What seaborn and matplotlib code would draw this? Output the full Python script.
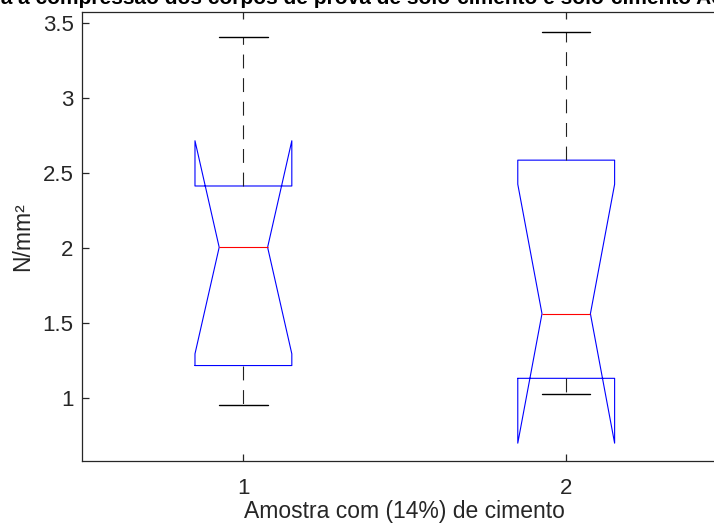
import matplotlib
matplotlib.use("Agg")
import matplotlib.pyplot as plt
import seaborn as sns
import pandas as pd

# Compressive strength (N/mm²) of the two sample sets, 7 specimens each
amostra_1 = [0.955, 1.10, 1.336, 2.005, 2.30, 2.526, 3.405]
amostra_2 = [1.029, 1.08, 1.186, 1.563, 2.47, 2.70, 3.438]
grupos = ["1", "2"]
y_ticks = [1, 1.5, 2, 2.5, 3, 3.5]
y_tick_labels = ["1", "1.5", "2", "2.5", "3", "3.5"]

df = pd.DataFrame({
    "Amostra": [grupos[0]] * len(amostra_1) + [grupos[1]] * len(amostra_2),
    "Resistencia": amostra_1 + amostra_2,
})

sns.set_theme(style="white")
plt.rcParams["font.family"] = ["Liberation Sans", "DejaVu Sans"]
plt.rcParams["lines.scale_dashes"] = False

fig = plt.figure(figsize=(7.14, 5.25), dpi=100)
ax = fig.add_axes([82 / 714, 63.7 / 525, 645.6 / 714, 449.6 / 525])

lw = 0.8
sns.boxplot(
    data=df, x="Amostra", y="Resistencia", order=grupos,
    notch=True, fill=False, width=0.3, whis=1.5,
    linewidth=lw, ax=ax,
    boxprops=dict(color="#0000ff", linewidth=lw),
    medianprops=dict(color="#ff0000", linewidth=lw),
    whiskerprops=dict(color="#222222", linewidth=lw, linestyle=(0, (10, 7))),
    capprops=dict(color="#000000", linewidth=1.0),
)

ax.set_xlim(-0.5, 1.5)
ax.set_ylim(0.5807, 3.573)
ax.set_yticks(y_ticks)
ax.set_yticklabels(y_tick_labels)

dark = "#262626"
for side in ["left", "bottom", "top", "right"]:
    ax.spines[side].set_visible(True)
    ax.spines[side].set_color(dark)
    ax.spines[side].set_linewidth(0.9)
ax.tick_params(axis="both", direction="in", length=5, width=0.9, color=dark,
               labelsize=16, labelcolor=dark, top=True, right=True,
               bottom=True, left=True)
ax.tick_params(axis="y", pad=6)
ax.tick_params(axis="x", pad=12)

ax.set_xlabel("Amostra com (14%) de cimento", fontsize=16.5, color=dark, labelpad=0.5)
ax.set_ylabel("N/mm²", fontsize=16.5, color=dark, labelpad=6)

# Figure title sits at the very top edge of the canvas
fig.text(405 / 714, 1 - 4 / 525,
         "Resistência à compressão dos corpos de prova de solo-cimento e solo-cimento Acrescido de cimento",
         ha="center", va="baseline", fontsize=15, fontweight="bold", color="#000000")

fig.savefig("out.png", dpi=100)
